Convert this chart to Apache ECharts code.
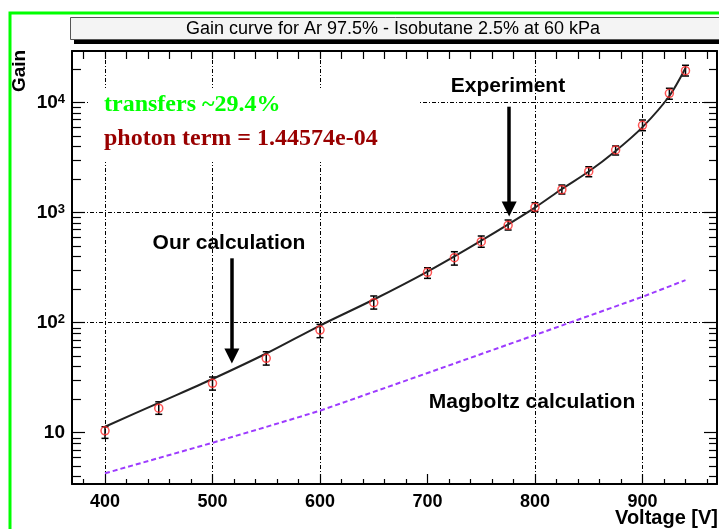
<!DOCTYPE html>
<html>
<head>
<meta charset="utf-8">
<script src="https://cdn.jsdelivr.net/npm/echarts@6/dist/echarts.min.js"></script>
<style>html,body{margin:0;padding:0;background:#fff;}#chart{width:719px;height:529px;}</style>
</head>
<body>
<div id="chart"></div>
<script>
// ---- data ----
const voltage = [400, 450, 500, 550, 600, 650, 700, 725, 750, 775, 800, 825, 850, 875, 900, 925, 940];
const gainMeasured = [10.4, 16.7, 28.1, 47.5, 85.8, 152, 287, 390, 545, 768, 1120, 1618, 2370, 3715, 6230, 12170, 19540];
const gainErrLow = [8.89, 14.7, 24.4, 41.2, 73.1, 133, 253, 334, 485, 696, 1021, 1479, 2123, 3346, 5566, 10740, 17480];
const gainErrHigh = [11.34, 19.1, 32.1, 54.5, 96.6, 175, 316, 442, 614, 858, 1233, 1785, 2618, 4041, 6961, 13520, 21880];
const calcVoltage = [400, 450, 500, 550, 600, 650, 700, 750, 800, 825, 850, 875, 900, 925, 940];
const calcGain = [11.34, 18.7, 30.8, 52.5, 94.3, 162.6, 292, 558, 1114, 1643, 2369, 3640, 6000, 11510, 20650];
const magVoltage = [400, 500, 550, 600, 700, 800, 900, 940];
const magGain = [4.28, 8.11, 11.3, 15.85, 34.9, 77.3, 172, 244];
const xMajorTicks = [400, 500, 600, 700, 800, 900];
const xMinorTicks = [380, 420, 440, 460, 480, 520, 540, 560, 580, 620, 640, 660, 680, 720, 740, 760, 780, 820, 840, 860, 880, 920, 940, 960];
const xTopTicks = [380, 400, 420, 440, 460, 480, 500, 520, 540, 560, 580, 600, 620, 640, 660, 680, 700, 720, 740, 760, 780, 800, 820, 840, 860, 880, 900, 920, 940, 960];
const xGridLines = [400, 500, 600, 800, 900];
const yMajorTicks = [10, 100, 1000, 10000];
const yMinorTicks = [4, 5, 6, 7, 8, 9, 20, 30, 40, 50, 60, 70, 80, 90, 200, 300, 400, 500, 600, 700, 800, 900, 2000, 3000, 4000, 5000, 6000, 7000, 8000, 9000, 20000];
const yGridLines = [100, 1000, 10000];
const arrowExperiment = [[776, 9195], [776, 1080]];
const arrowCalculation = [[518, 385], [518, 49.8]];
const titleText = 'Gain curve for Ar 97.5% - Isobutane 2.5% at 60 kPa';

const XMIN = 369.3, XMAX = 969.3, YMIN = 3.42, YMAX = 29500;
const SANS = '"Liberation Sans", Arial, sans-serif';
const SERIF = '"Liberation Serif", "Times New Roman", serif';

const chart = echarts.init(document.getElementById('chart'), null, {renderer: 'canvas'});

const gridLineStyle = {color: '#000', width: 1, type: [4, 2, 1, 2]};
function xAx(extra) {
  return Object.assign({
    type: 'value', min: XMIN, max: XMAX, gridIndex: 0, position: 'bottom',
    axisLine: {show: false}, axisLabel: {show: false}, splitLine: {show: false},
    axisTick: {show: false}
  }, extra);
}
function yAx(extra) {
  return Object.assign({
    type: 'log', logBase: 10, min: YMIN, max: YMAX, gridIndex: 0, position: 'left',
    axisLine: {show: false}, axisLabel: {show: false}, splitLine: {show: false},
    axisTick: {show: false}
  }, extra);
}
const frame = {show: true, lineStyle: {color: '#000', width: 2}};
function txt(x, y, text, font, fill, align, extra) {
  return Object.assign({type: 'text', z: 2, x: x, y: y, style: {text: text, font: font, fill: fill,
    align: align, verticalAlign: 'middle', textAlign: align, textVerticalAlign: 'middle'}}, extra || {});
}

const option = {
  animation: false,
  backgroundColor: '#fff',
  grid: {left: 72, right: 2, top: 51, bottom: 45, containLabel: false},
  xAxis: [
    xAx({
      axisLine: frame,
      axisTick: {show: true, inside: true, length: 10, customValues: xMajorTicks, lineStyle: {color: '#000', width: 1.2}},
      axisLabel: {show: true, customValues: xMajorTicks, margin: 9, color: '#000', fontSize: 18, fontWeight: 'bold', fontFamily: SANS}
    }),
    xAx({axisTick: {show: true, inside: true, length: 5, customValues: xMinorTicks, lineStyle: {color: '#000', width: 1.2}}}),
    xAx({position: 'top', axisLine: frame,
      axisTick: {show: true, inside: true, length: 8, customValues: xTopTicks, lineStyle: {color: '#000', width: 1.2}}}),
    xAx({axisTick: {show: false, customValues: xGridLines}, splitLine: {show: true, lineStyle: gridLineStyle}})
  ],
  yAxis: [
    yAx({
      axisLine: frame,
      axisTick: {show: true, inside: true, length: 13, customValues: yMajorTicks, lineStyle: {color: '#000', width: 1.2}},
      axisLabel: {
        show: true, customValues: yMajorTicks, margin: 7, color: '#000',
        formatter: function (v) {
          const e = Math.round(Math.log10(v));
          return e === 1 ? '{b|10}' : '{b|10}{s|' + e + '}';
        },
        rich: {
          b: {fontSize: 19, fontWeight: 'bold', fontFamily: SANS, color: '#000'},
          s: {fontSize: 13, fontWeight: 'bold', fontFamily: SANS, color: '#000', verticalAlign: 'top'}
        }
      }
    }),
    yAx({axisTick: {show: true, inside: true, length: 9, customValues: yMinorTicks, lineStyle: {color: '#000', width: 1.2}}}),
    yAx({position: 'right', axisLine: frame,
      axisTick: {show: true, inside: true, length: 13, customValues: yMajorTicks, lineStyle: {color: '#000', width: 1.2}}}),
    yAx({position: 'right',
      axisTick: {show: true, inside: true, length: 8, customValues: yMinorTicks, lineStyle: {color: '#000', width: 1.2}}}),
    yAx({axisTick: {show: false, customValues: yGridLines}, splitLine: {show: true, lineStyle: gridLineStyle}})
  ],
  graphic: [
    {type: 'rect', z: 1, shape: {x: 10, y: 13, width: 740, height: 560}, style: {fill: 'none', stroke: '#00ff00', lineWidth: 3}},
    {type: 'rect', z: 1, shape: {x: 74, y: 22, width: 660, height: 22}, style: {fill: '#000'}},
    {type: 'rect', z: 1, shape: {x: 70.5, y: 17.5, width: 660, height: 22}, style: {fill: '#f4f4f4', stroke: '#555', lineWidth: 1}},
    txt(393, 29, titleText, '18px ' + SANS, '#000', 'center'),
    {type: 'rect', z: 1, shape: {x: 88, y: 88, width: 330, height: 74}, style: {fill: '#fff'}},
    txt(104, 105, 'transfers ~29.4%', 'bold 24px ' + SERIF, '#00ff00', 'left'),
    txt(104, 139, 'photon term = 1.44574e-04', 'bold 24px ' + SERIF, '#990000', 'left'),
    txt(508, 86, 'Experiment', 'bold 21px ' + SANS, '#000', 'center'),
    txt(229, 243, 'Our calculation', 'bold 21px ' + SANS, '#000', 'center'),
    txt(532, 402, 'Magboltz calculation', 'bold 21px ' + SANS, '#000', 'center'),
    txt(718, 518, 'Voltage [V]', 'bold 20px ' + SANS, '#000', 'right'),
    txt(20, 71, 'Gain', 'bold 19px ' + SANS, '#000', 'center', {rotation: Math.PI / 2})
  ],
  series: [
    {
      name: 'Magboltz calculation', type: 'line', xAxisIndex: 0, yAxisIndex: 0,
      data: magVoltage.map((v, i) => [v, magGain[i]]),
      showSymbol: false, symbol: 'none',
      lineStyle: {color: '#9d3bff', width: 2, type: [5, 3]}
    },
    {
      name: 'Our calculation', type: 'line', xAxisIndex: 0, yAxisIndex: 0,
      data: calcVoltage.map((v, i) => [v, calcGain[i]]),
      showSymbol: false, symbol: 'none', smooth: 0.3,
      lineStyle: {color: '#222', width: 2},
      markLine: {
        silent: true, symbol: ['none', 'triangle'], symbolSize: 15,
        label: {show: false},
        lineStyle: {color: '#000', width: 3.5, type: 'solid'},
        data: [
          [{coord: arrowExperiment[0]}, {coord: arrowExperiment[1]}],
          [{coord: arrowCalculation[0]}, {coord: arrowCalculation[1]}]
        ]
      }
    },
    {
      name: 'errors', type: 'custom', xAxisIndex: 0, yAxisIndex: 0, z: 3,
      data: voltage.map((v, i) => [v, gainErrLow[i], gainErrHigh[i]]),
      encode: {x: 0, y: [1, 2]},
      renderItem: function (params, api) {
        const x = api.value(0), lo = api.value(1), hi = api.value(2);
        const p1 = api.coord([x, lo]), p2 = api.coord([x, hi]);
        const w = 3.5, st = {stroke: '#000', lineWidth: 1.5};
        return {type: 'group', children: [
          {type: 'line', shape: {x1: p1[0], y1: p1[1], x2: p2[0], y2: p2[1]}, style: st},
          {type: 'line', shape: {x1: p1[0] - w, y1: p1[1], x2: p1[0] + w, y2: p1[1]}, style: st},
          {type: 'line', shape: {x1: p2[0] - w, y1: p2[1], x2: p2[0] + w, y2: p2[1]}, style: st}
        ]};
      }
    },
    {
      name: 'Experiment', type: 'scatter', xAxisIndex: 0, yAxisIndex: 0, z: 4,
      data: voltage.map((v, i) => [v, gainMeasured[i]]),
      symbol: 'circle', symbolSize: 8,
      itemStyle: {color: 'rgba(0,0,0,0)', borderColor: '#ff2a2a', borderWidth: 1.5}
    }
  ]
};
chart.setOption(option);
</script>
</body>
</html>
